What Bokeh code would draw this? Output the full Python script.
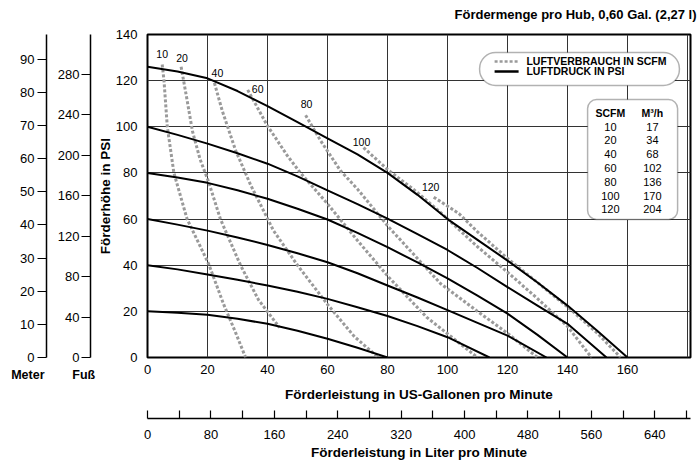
from bokeh.plotting import figure
from bokeh.models import (Range1d, LinearAxis, FixedTicker, BoxAnnotation, Label, Grid)
from bokeh.core.properties import value
from bokeh.embed import file_html
from bokeh.resources import INLINE

FONT = "'Liberation Sans', Arial, sans-serif"

# ---------------- data ----------------
title_text = "Fördermenge pro Hub, 0,60 Gal. (2,27 l)"
gpm_ticks = [0, 20, 40, 60, 80, 100, 120, 140, 160]
psi_ticks = [0, 20, 40, 60, 80, 100, 120, 140]
ft_ticks = [0, 40, 80, 120, 160, 200, 240, 280]
m_ticks = [0, 10, 20, 30, 40, 50, 60, 70, 80, 90]
lpm_ticks = [0, 80, 160, 240, 320, 400, 480, 560, 640]
lpm_minor = [40, 120, 200, 280, 360, 440, 520, 600, 680]

# air pressure curves (gpm, psi)
psi120_x = [0, 10, 20, 30, 40, 50, 60, 70, 80, 90, 100, 110, 120, 130, 140, 150, 160]
psi120_y = [126, 124, 121, 115.5, 109, 102, 95, 88, 80, 70.5, 60, 51, 42, 32.5, 22.5, 11.5, 0]
psi100_x = [0, 10, 20, 30, 40, 50, 60, 70, 80, 90, 100, 110, 120, 130, 140, 153]
psi100_y = [100, 96.5, 92.7, 88.5, 84, 78.5, 72.4, 66.5, 60.2, 53.5, 46.6, 38.8, 30.5, 22.5, 14.6, 0]
psi80_x = [0, 10, 20, 30, 40, 50, 60, 70, 80, 90, 100, 110, 120, 130, 140]
psi80_y = [80, 78, 75.7, 72.5, 68.8, 64.5, 59.8, 54, 47.8, 41.2, 34.3, 26.8, 19, 9.8, 0]
psi60_x = [0, 10, 20, 30, 40, 50, 60, 70, 80, 90, 100, 110, 120, 133]
psi60_y = [60, 57.6, 55, 52, 48.8, 45.2, 41.3, 36.5, 31.2, 26, 20.5, 15, 9.5, 0]
psi40_x = [0, 10, 20, 30, 40, 50, 60, 70, 80, 90, 100, 114]
psi40_y = [40, 38.2, 36, 33.7, 31.2, 28.5, 25.4, 21.8, 18, 13.6, 8.8, 0]
psi20_x = [0, 10, 20, 30, 40, 50, 60, 70, 80]
psi20_y = [20, 19.4, 18.5, 16.8, 14.6, 11.6, 8.1, 4.2, 0]

# air consumption curves (gpm, psi)
scfm10_x = [4.9, 5.5, 6.6, 8.8, 13.2, 20.4, 25.4, 29.3, 32.7]
scfm10_y = [127, 120, 100, 80, 60, 40.5, 23, 11, 0]
scfm20_x = [11.2, 13, 15, 17.5, 20.4, 24.3, 31, 37, 44]
scfm20_y = [126, 113, 98, 86, 76, 60, 40, 25, 13]
scfm40_x = [22.3, 24.9, 29.3, 34.3, 42, 50, 60, 69, 77]
scfm40_y = [119, 107, 90, 75, 55, 40, 23, 9, 0]
scfm60_x = [33.4, 39.9, 46.6, 51, 60, 70, 80.4, 93, 110]
scfm60_y = [116, 100.6, 87.5, 80, 66.6, 50.7, 34.8, 17.5, 0]
scfm80_x = [52.7, 57.7, 64.3, 70, 80.4, 97.7, 110, 120, 130]
scfm80_y = [105, 94, 81, 73, 56.5, 32, 20, 10.5, 0]
scfm100_x = [72, 80, 90, 98, 110, 120, 130, 140, 148]
scfm100_y = [91, 81.5, 71.5, 62.5, 48, 37, 25.5, 13.5, 0]
scfm120_x = [95.4, 103.8, 110, 120.4, 130, 140.4, 150, 157.7]
scfm120_y = [69.5, 62.4, 54.5, 42.5, 32.5, 21.5, 10.5, 0]

scfm_values = [10, 20, 40, 60, 80, 100, 120]
m3h_values = [17, 34, 68, 102, 136, 170, 204]

pressure_x = [psi120_x, psi100_x, psi80_x, psi60_x, psi40_x, psi20_x]
pressure_y = [psi120_y, psi100_y, psi80_y, psi60_y, psi40_y, psi20_y]
air_x = [scfm10_x, scfm20_x, scfm40_x, scfm60_x, scfm80_x, scfm100_x, scfm120_x]
air_y = [scfm10_y, scfm20_y, scfm40_y, scfm60_y, scfm80_y, scfm100_y, scfm120_y]

FT_PER_PSI = 2.28
M_PER_PSI = 0.696
L_PER_GAL = 3.785
X_END = 181
Y_END = 140

# ---------------- figure ----------------
p = figure(width=700, height=466, x_range=Range1d(0, X_END), y_range=Range1d(0, Y_END),
           x_axis_type=None, y_axis_type=None, output_backend="svg", toolbar_location=None,
           min_border_left=147, min_border_right=10, min_border_top=34, min_border_bottom=109)
p.background_fill_color = "white"
p.border_fill_color = "white"
p.outline_line_color = "black"
p.outline_line_width = 2

p.extra_y_ranges = {"ft": Range1d(0, Y_END * FT_PER_PSI), "m": Range1d(0, Y_END * M_PER_PSI)}
p.extra_x_ranges = {"lpm": Range1d(0, X_END * L_PER_GAL)}

# heading, in the panel above the frame
p.add_layout(Label(x=549, y=20, x_units="screen", y_units="screen", text=title_text,
                   text_align="right", text_baseline="middle", text_font=FONT,
                   text_font_size="13px", text_font_style="bold", text_color="black"),
             "above")

# grid
p.add_layout(Grid(dimension=0, ticker=FixedTicker(ticks=gpm_ticks[1:] + [180]),
                  grid_line_color="#333333", grid_line_width=1))
p.add_layout(Grid(dimension=1, ticker=FixedTicker(ticks=psi_ticks[1:]),
                  grid_line_color="#333333", grid_line_width=1))

TICK_SIZE = "13px"
TITLE_SIZE = "13.5px"


def style_axis(ax):
    ax.major_label_text_font = FONT
    ax.major_label_text_font_size = TICK_SIZE
    ax.major_label_text_color = "black"
    ax.axis_label_text_font = FONT
    ax.axis_label_text_font_style = "bold"
    ax.axis_label_text_font_size = TITLE_SIZE
    ax.axis_label_text_color = "black"
    ax.minor_tick_line_color = None


def spacer(size, **kw):
    return LinearAxis(ticker=FixedTicker(ticks=[]), axis_line_color=None,
                      major_tick_line_color=None, minor_tick_line_color=None,
                      major_tick_in=0, major_tick_out=0, major_label_standoff=0,
                      axis_label="\u00a0", axis_label_standoff=0,
                      axis_label_text_font=FONT,
                      axis_label_text_font_size=f"{size}px", **kw)


# bottom: main gallons axis
xax = LinearAxis(ticker=FixedTicker(ticks=gpm_ticks),
                 axis_label="Förderleistung in US-Gallonen pro Minute",
                 axis_line_color=None, major_tick_line_color=None,
                 major_tick_in=0, major_tick_out=0, major_label_standoff=7,
                 axis_label_standoff=10)
style_axis(xax)
p.add_layout(xax, "below")

# unit names under the left axes; this label's panel also spaces the litre axis
NB = "\u00a0"
p.add_layout(Label(x=-136.3, y=44, x_units="screen", y_units="screen",
                   text="Meter" + NB * 8 + "Fuß",
                   text_align="left", text_baseline="middle",
                   text_font=FONT, text_font_size="12.5px", text_font_style="bold",
                   text_color="black"), "below")

lax = LinearAxis(x_range_name="lpm",
                 ticker=FixedTicker(ticks=lpm_ticks, minor_ticks=lpm_minor),
                 axis_label="Förderleistung in Liter pro Minute",
                 axis_line_color="black", axis_line_width=1.5,
                 major_tick_in=8, major_tick_out=0, major_tick_line_color="black",
                 major_tick_line_width=1.2,
                 major_label_standoff=11, axis_label_standoff=3)
style_axis(lax)
lax.minor_tick_line_color = "black"
lax.minor_tick_line_width = 1.2
lax.minor_tick_in = 8
lax.minor_tick_out = 0
p.add_layout(lax, "below")

# left: main psi axis
yax = LinearAxis(ticker=FixedTicker(ticks=psi_ticks), axis_label="Förderhöhe in PSI",
                 axis_line_color=None, major_tick_line_color=None,
                 major_tick_in=0, major_tick_out=0, major_label_standoff=10,
                 axis_label_standoff=0)
style_axis(yax)
p.add_layout(yax, "left")
p.add_layout(spacer(0.5), "left")

fax = LinearAxis(y_range_name="ft", ticker=FixedTicker(ticks=ft_ticks),
                 axis_line_color="black", axis_line_width=1.5,
                 major_tick_in=0, major_tick_out=9, major_tick_line_color="black",
                 major_tick_line_width=1.2, major_label_standoff=2)
style_axis(fax)
p.add_layout(fax, "left")
p.add_layout(spacer(4.5), "left")

max_ = LinearAxis(y_range_name="m", ticker=FixedTicker(ticks=m_ticks),
                  axis_line_color="black", axis_line_width=1.5,
                  major_tick_in=0, major_tick_out=9, major_tick_line_color="black",
                  major_tick_line_width=1.2, major_label_standoff=3)
style_axis(max_)
p.add_layout(max_, "left")

# ---------------- curves ----------------
for xs, ys in zip(air_x, air_y):
    p.line(xs, ys, line_color="#9a9a9a", line_width=3, line_dash="3 2", line_cap="butt")
for xs, ys in zip(pressure_x, pressure_y):
    p.line(xs, ys, line_color="black", line_width=2, line_join="round")

# curve labels at curve tops
lab_x = [xs[0] for xs in air_x]
lab_y = [ys[0] for ys in air_y]
lab_dx = [0, 1, 3, 10, 1, -2, -3]
lab_dy = [-10, -9, -10, -1, -11, -6, -10]
p.text(x=lab_x, y=lab_y, text=[str(v) for v in scfm_values], x_offset=lab_dx, y_offset=lab_dy,
       text_align="center", text_baseline="middle", text_font=value(FONT),
       text_font_size="10.5px", text_color="black")

# ---------------- legend box ----------------
p.add_layout(BoxAnnotation(left=110.7, right=177.3, bottom=117.9, top=132.2,
                           fill_color="white", fill_alpha=1, line_color="black",
                           line_width=1.5, border_radius=16, level="underlay"))
p.line([115.7, 123.7], [128.3, 128.3], line_color="#9a9a9a", line_width=2.5,
       line_dash="3 2")
p.line([115.7, 123.7], [124.0, 124.0], line_color="black", line_width=2.5)
p.text(x=[126.3, 126.3], y=[128.3, 124.0], text=["LUFTVERBRAUCH IN SCFM", "LUFTDRUCK IN PSI"],
       text_align="left", text_baseline="middle", text_font=value(FONT),
       text_font_size="10.5px", text_font_style="bold", text_color="black")

# ---------------- conversion table ----------------
p.add_layout(BoxAnnotation(left=146.7, right=176.7, bottom=59.8, top=111.8,
                           fill_color="white", fill_alpha=1, line_color="black",
                           line_width=1.5, border_radius=9, level="underlay"))
row_y = [100.1 - 5.98 * i for i in range(len(scfm_values))]
p.text(x=[154.3, 168.3], y=[105.8, 105.8], text=["SCFM", "M³/h"], text_align="center",
       text_baseline="middle", text_font=value(FONT), text_font_size="10.5px",
       text_font_style="bold", text_color="black")
p.text(x=[154.3] * len(scfm_values), y=row_y, text=[str(v) for v in scfm_values],
       text_align="center", text_baseline="middle", text_font=value(FONT),
       text_font_size="11px", text_color="black")
p.text(x=[168.3] * len(m3h_values), y=row_y, text=[str(v) for v in m3h_values],
       text_align="center", text_baseline="middle", text_font=value(FONT),
       text_font_size="11px", text_color="black")

open("out.html", "w").write(file_html(p, INLINE))
